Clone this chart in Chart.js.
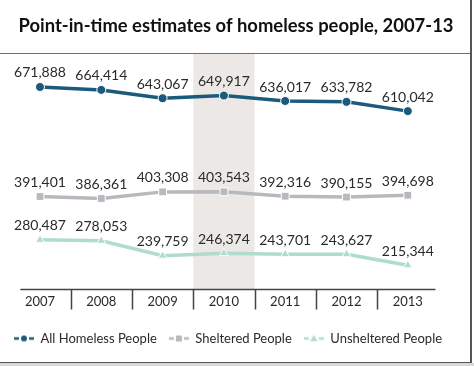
<!DOCTYPE html>
<html><head><meta charset="utf-8">
<script src="https://cdn.jsdelivr.net/npm/chart.js@4"></script>
<style>
html,body{margin:0;padding:0;background:#fff;}
#wrap{position:absolute;left:0;top:0;width:470px;height:362px;border-right:2px solid #555;border-bottom:1px solid #555;}
#under{position:absolute;left:0;top:363px;width:474px;height:3px;background:#d8d8d8;}
canvas{display:block}
</style></head><body>
<div id="wrap"><canvas id="c" width="470" height="362"></canvas></div>
<div id="under"></div>
<script>
const years = ['2007', '2008', '2009', '2010', '2011', '2012', '2013'];
const allHomeless = [671888, 664414, 643067, 649917, 636017, 633782, 610042];
const sheltered = [391401, 386361, 403308, 403543, 392316, 390155, 394698];
const unsheltered = [280487, 278053, 239759, 246374, 243701, 243627, 215344];
const highlightYear = '2010';
const titleText = 'Point-in-time estimates of homeless people, 2007-13';

const FONT = 'Lato, "Open Sans", sans-serif';
const TEXT = '#2a2a2a';
const C_ALL = '#1b5a7c', C_SH = '#b6b9bd', C_UN = '#b0dcd0';

function legendIcon(color, shape) {
  const c = document.createElement('canvas'); c.width = 20; c.height = 12;
  const g = c.getContext('2d');
  g.strokeStyle = color; g.lineWidth = 2.5;
  g.beginPath(); g.moveTo(0, 6); g.lineTo(5, 6); g.moveTo(15, 6); g.lineTo(20, 6); g.stroke();
  g.fillStyle = color; g.beginPath();
  if (shape === 'circle') g.arc(10, 6, 3, 0, Math.PI * 2);
  else if (shape === 'rect') g.rect(7, 3, 6, 6);
  else { g.moveTo(10, 2.5); g.lineTo(13.8, 8.8); g.lineTo(6.2, 8.8); g.closePath(); }
  g.fill();
  return c;
}

const bandPlugin = {
  id: 'band',
  beforeDatasetsDraw(chart) {
    const xs = chart.scales.x, ctx = chart.ctx, a = chart.chartArea;
    const i = years.indexOf(highlightYear);
    const half = (xs.getPixelForValue(1) - xs.getPixelForValue(0)) / 2;
    const cx = xs.getPixelForValue(i);
    ctx.save(); ctx.fillStyle = '#ebe8e5';
    ctx.fillRect(cx - half, 54, half * 2, a.bottom - 54);
    ctx.restore();
  },
  afterDraw(chart) {
    const xs = chart.scales.x, ctx = chart.ctx, a = chart.chartArea;
    ctx.save();
    ctx.strokeStyle = '#3d7f8f'; ctx.lineWidth = 1;
    ctx.beginPath(); ctx.moveTo(0, 53.5); ctx.lineTo(chart.width, 53.5); ctx.stroke();
    ctx.strokeStyle = '#444'; ctx.lineWidth = 1.5;
    const half = (xs.getPixelForValue(1) - xs.getPixelForValue(0)) / 2;
    const left = xs.getPixelForValue(0) - half + 11, right = xs.getPixelForValue(years.length - 1) + half - 3;
    ctx.beginPath(); ctx.moveTo(left, a.bottom); ctx.lineTo(right, a.bottom); ctx.stroke();
    ctx.beginPath();
    for (let k = 0; k < years.length - 1; k++) {
      const x = Math.round((xs.getPixelForValue(k) + xs.getPixelForValue(k + 1)) / 2) + 0.5;
      ctx.moveTo(x, a.bottom); ctx.lineTo(x, a.bottom + 20);
    }
    ctx.stroke();
    ctx.restore();
  },
  afterDatasetsDraw(chart) {
    const ctx = chart.ctx;
    ctx.save();
    ctx.font = '14px ' + FONT; ctx.fillStyle = TEXT;
    ctx.textAlign = 'center'; ctx.textBaseline = 'middle';
    chart.data.datasets.forEach((ds, di) => {
      const meta = chart.getDatasetMeta(di);
      meta.data.forEach((el, i) => {
        ctx.fillText(ds.data[i].toLocaleString('en-US'), el.x, el.y - 14);
      });
    });
    ctx.restore();
  }
};

const hiddenAxis = (pos, w) => ({
  position: pos, display: true, grid: { display: false, drawTicks: false }, border: { display: false },
  ticks: { display: false }, afterFit(s) { s.width = w; }
});

new Chart(document.getElementById('c'), {
  type: 'line',
  data: {
    labels: years,
    datasets: [
      { label: 'All Homeless People', data: allHomeless, borderColor: C_ALL, backgroundColor: C_ALL,
        borderWidth: 3.5, pointStyle: 'circle', pointRadius: 4.5, pointBorderColor: '#fff', pointBorderWidth: 1, _icon: legendIcon(C_ALL, 'circle') },
      { label: 'Sheltered People', data: sheltered, borderColor: C_SH, backgroundColor: C_SH,
        borderWidth: 3.5, pointStyle: 'rect', pointRadius: 5.5, pointBorderColor: '#fff', pointBorderWidth: 1, _icon: legendIcon(C_SH, 'rect') },
      { label: 'Unsheltered People', data: unsheltered, borderColor: C_UN, backgroundColor: C_UN,
        borderWidth: 3.5, pointStyle: 'triangle', pointRadius: 5, pointBorderColor: '#fff', pointBorderWidth: 1, _icon: legendIcon(C_UN, 'triangle') }
    ]
  },
  options: {
    responsive: false, animation: false, devicePixelRatio: 1,
    layout: { padding: { left: 2, right: 0, top: 0, bottom: 7 } },
    scales: {
      x: { offset: true, grid: { display: false, drawTicks: false }, border: { display: false },
           ticks: { color: TEXT, font: { family: FONT, size: 13 }, padding: 5 },
           afterFit(s) { s.height += 5; } },
      y: Object.assign(hiddenAxis('left', 7.35), { min: 153646, max: 761241 }),
      yR: hiddenAxis('right', 31.55)
    },
    plugins: {
      title: { display: true, text: titleText, color: '#111', font: { family: FONT, size: 18.4, weight: 'bold', lineHeight: 1.2 },
               padding: { top: 15, bottom: 15 } },
      legend: { position: 'bottom', align: 'start',
        labels: { usePointStyle: true, pointStyleWidth: 20, color: TEXT, font: { family: FONT, size: 13 }, padding: 12,
          generateLabels(chart) {
            return Chart.defaults.plugins.legend.labels.generateLabels(chart).map((l, i) => {
              l.pointStyle = chart.data.datasets[i]._icon; return l; });
          } } },
      tooltip: { enabled: false }
    }
  },
  plugins: [bandPlugin]
});
</script>
</body></html>
